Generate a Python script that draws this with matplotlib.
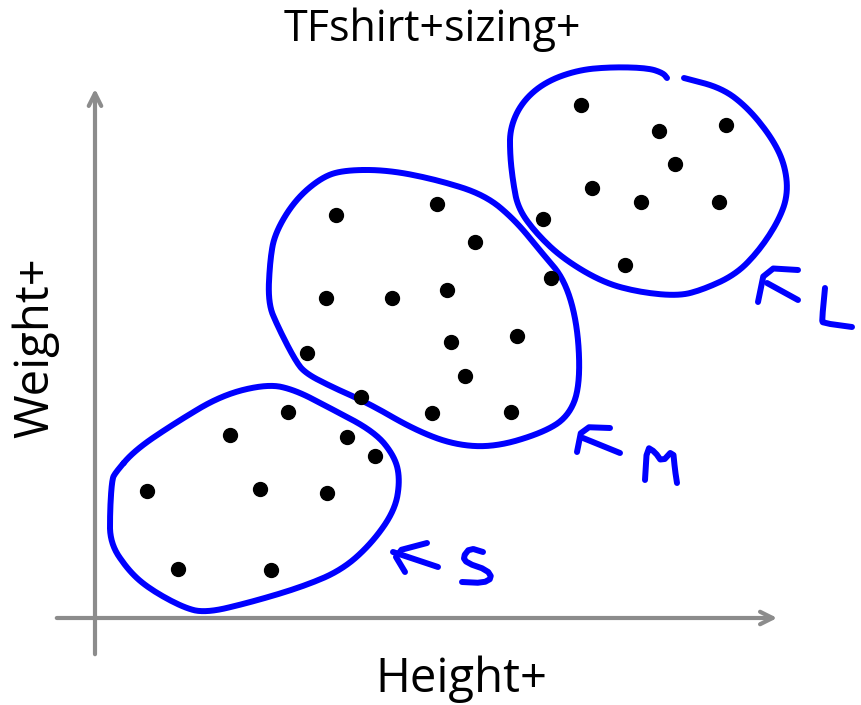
import numpy as np
import matplotlib.pyplot as plt

# Punkty (wzrost, waga), w pikselach rysunku
s_height = [147, 230, 288, 347, 375, 260, 327, 178, 271]
s_weight = [491, 435, 412, 437, 456, 489, 493, 569, 570]

m_height = [336, 437, 475, 551, 326, 392, 447, 517, 307, 451, 465, 361, 432, 511]
m_weight = [215, 204, 242, 278, 298, 298, 290, 336, 353, 342, 376, 397, 413, 412]

l_height = [581, 659, 726, 675, 592, 641, 719, 543, 625]
l_weight = [105, 131, 125, 164, 188, 202, 202, 219, 265]

# Odręczne obwiednie klastrów
s_loop = [(115, 473), (135, 450), (175, 423), (222, 395), (268, 384), (295, 390),
          (328, 407), (375, 432), (395, 457), (400, 480), (395, 510), (372, 543),
          (342, 570), (302, 587), (248, 603), (205, 613), (182, 607), (148, 588),
          (128, 570), (110, 543), (110, 510), (112, 480)]
m_loop = [(345, 170), (388, 170), (438, 180), (485, 195), (515, 220), (542, 253),
          (565, 280), (578, 327), (580, 387), (568, 417), (542, 433), (495, 447),
          (455, 445), (415, 430), (368, 403), (332, 387), (305, 373), (295, 360),
          (278, 327), (268, 303), (270, 260), (275, 233), (295, 200), (322, 177)]
l_loop = [(684, 78), (722, 88), (748, 108), (772, 138), (785, 165), (788, 195),
          (778, 222), (758, 252), (735, 275), (702, 290), (678, 296), (638, 292),
          (602, 282), (562, 258), (535, 232), (518, 208), (513, 182), (510, 155),
          (510, 128), (522, 102), (545, 82), (578, 70), (612, 67), (648, 68),
          (663, 73), (667, 78)]

# Odręczne podpisy: strzałki i litery
strokes = [
    # <- S
    [(427, 543), (393, 552), (405, 572)],
    [(393, 552), (438, 567)],
    [(483, 552), (470, 548), (463, 557), (467, 563), (487, 570), (492, 578),
     (483, 583), (462, 582)],
    # F M
    [(577, 452), (582, 427), (610, 428)],
    [(583, 438), (620, 453)],
    [(645, 480), (647, 447), (655, 452), (662, 462), (673, 450), (675, 470), (677, 483)],
    # F L
    [(758, 302), (765, 268), (798, 270)],
    [(767, 283), (798, 300)],
    [(825, 288), (822, 320), (823, 323), (852, 327)],
]

blue = '#0000ff'
gray = '#8c8c8c'
font = 'Open Sans'


def wygladz(pts, zamknieta, n=3):
    # wygładzanie łamanej metodą Chaikina (tylko do rysowania obwiedni)
    p = np.array(pts, dtype=float)
    for _ in range(n):
        if zamknieta:
            q = np.roll(p, -1, axis=0)
            a = 0.75 * p + 0.25 * q
            b = 0.25 * p + 0.75 * q
            p = np.empty((2 * len(p), 2))
            p[0::2], p[1::2] = a, b
        else:
            a = 0.75 * p[:-1] + 0.25 * p[1:]
            b = 0.25 * p[:-1] + 0.75 * p[1:]
            mid = np.empty((2 * len(a), 2))
            mid[0::2], mid[1::2] = a, b
            p = np.vstack([p[:1], mid, p[-1:]])
    if zamknieta:
        p = np.vstack([p, p[:1]])
    return p[:, 0], p[:, 1]


fig = plt.figure(figsize=(8.62, 7.05), dpi=100)
ax = fig.add_axes([0, 0, 1, 1])
ax.set_xlim(0, 862)
ax.set_ylim(705, 0)
ax.axis('off')

# Osie ze strzałkami
ax.annotate('', xy=(95, 86), xytext=(95, 657),
            arrowprops=dict(arrowstyle='->,head_length=0.9,head_width=0.45',
                            color=gray, lw=3))
ax.annotate('', xy=(780, 618), xytext=(54, 618),
            arrowprops=dict(arrowstyle='->,head_length=0.9,head_width=0.45',
                            color=gray, lw=3))

for loop, closed in ((s_loop, True), (m_loop, True), (l_loop, False)):
    xs, ys = wygladz(loop, closed)
    ax.plot(xs, ys, color=blue, lw=4.3, solid_capstyle='round', solid_joinstyle='round')
for st in strokes:
    xs, ys = wygladz(st, False, n=1)
    ax.plot(xs, ys, color=blue, lw=4.3, solid_capstyle='round', solid_joinstyle='round')

for hx, wy in ((s_height, s_weight), (m_height, m_weight), (l_height, l_weight)):
    ax.plot(hx, wy, 'o', color='black', markersize=10)

ax.text(432, 30, 'TFshirt+sizing+', ha='center', va='center', fontsize=31, family=font)
ax.text(461, 679, 'Height+', ha='center', va='center', fontsize=34, family=font)
ax.text(36, 348, 'Weight+', ha='center', va='center', fontsize=34, family=font, rotation=90)

fig.savefig('out.png', dpi=100)
